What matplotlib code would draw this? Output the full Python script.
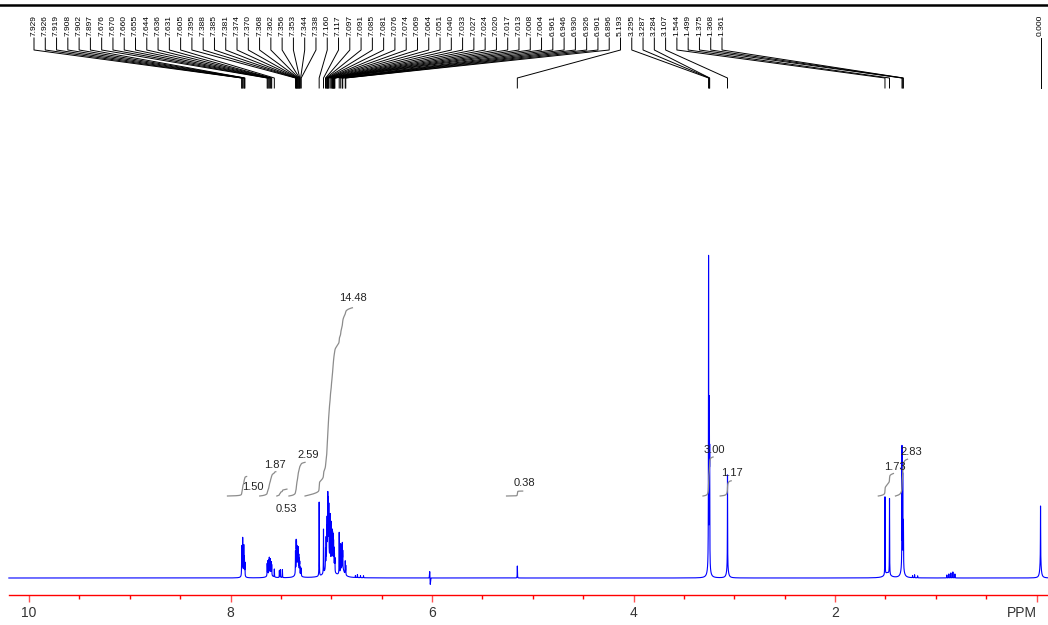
import numpy as np
import matplotlib
matplotlib.use('Agg')
import matplotlib.pyplot as plt
from matplotlib.ticker import MultipleLocator

plt.rcParams['font.family'] = ['Liberation Sans', 'DejaVu Sans']

# ---------------- data ----------------
# peak-pick labels (ppm) shown at the top
peak_labels = [7.929, 7.926, 7.919, 7.908, 7.902, 7.897, 7.676, 7.670, 7.660, 7.655,
               7.644, 7.636, 7.631, 7.605, 7.395, 7.388, 7.385, 7.381, 7.374, 7.370,
               7.368, 7.362, 7.356, 7.353, 7.344, 7.338, 7.160, 7.117, 7.097, 7.091,
               7.085, 7.081, 7.076, 7.074, 7.069, 7.064, 7.051, 7.040, 7.033, 7.027,
               7.024, 7.020, 7.017, 7.013, 7.008, 7.004, 6.961, 6.946, 6.930, 6.926,
               6.901, 6.896, 5.193, 3.295, 3.287, 3.284, 3.107, 1.544, 1.499, 1.375,
               1.368, 1.361]
ref_label = 0.000

# sharp lines: shift (ppm) and height
line_shift = [7.929, 7.926, 7.919, 7.908, 7.902, 7.897,
              7.676, 7.670, 7.660, 7.655, 7.644, 7.636, 7.631, 7.605,
              7.555, 7.545, 7.525,
              7.395, 7.388, 7.385, 7.381, 7.374, 7.370, 7.368, 7.362, 7.356, 7.353, 7.344, 7.338,
              7.160, 7.117,
              7.097, 7.091, 7.085, 7.081, 7.076, 7.074, 7.069, 7.064, 7.051, 7.040,
              7.033, 7.027, 7.024, 7.020, 7.017, 7.013, 7.008, 7.004,
              6.961, 6.946, 6.930, 6.926, 6.901, 6.896,
              6.80, 6.78, 6.75, 6.72,
              5.193,
              3.295, 3.287, 3.284, 3.107,
              1.544, 1.499, 1.375, 1.368, 1.361,
              1.27, 1.25, 1.22, 0.93, 0.91, 0.89, 0.87, 0.85,
              0.000]
line_height = [20, 26, 34, 28, 18, 13,
               12, 14, 13, 15, 14, 12, 10, 8,
               7, 8, 8,
               22, 28, 24, 20, 18, 16, 14, 16, 13, 11, 8, 7,
               74, 44,
               20, 28, 34, 40, 46, 52, 54, 50, 44, 40,
               34, 30, 28, 26, 24, 20, 16, 13,
               41, 27, 24, 16, 13, 9,
               2, 3, 2, 2,
               12,
               305, 150, 100, 93,
               78, 76, 116, 85, 45,
               2, 3, 2, 3, 4, 5, 6, 4,
               56]

# broad components: shift, height, half-width (ppm)
broad_shift = [7.915, 7.65, 7.375, 7.06, 6.93, 3.292, 3.107, 1.52, 1.37, 0.000]
broad_height = [6, 5, 10, 20, 9, 14, 10, 5, 16, 16]
broad_hwhm = [0.010, 0.020, 0.015, 0.030, 0.020, 0.012, 0.010, 0.030, 0.012, 0.008]

# phase artefact near 6 ppm
artefact_shift = 6.06
artefact_amp = 9

# integrals: region (ppm from, to) and value
int_from = [8.07, 7.75, 7.58, 7.46, 7.30, 5.30, 3.35, 3.18, 1.61, 1.44]
int_to = [7.88, 7.59, 7.48, 7.30, 6.83, 5.14, 3.25, 3.07, 1.46, 1.32]
int_value = [1.50, 1.87, 0.53, 2.59, 14.48, 0.38, 3.00, 1.17, 1.73, 2.83]

tick_values = [10, 8, 6, 4, 2, 0]
tick_labels = ['10', '8', '6', '4', '2', 'PPM']

# ---------------- layout ----------------
CAL = 0.04                       # referencing offset of the drawn trace
PPM_LEFT = 10 + 29 / 100.75
PPM_RIGHT = 10 - 1019 / 100.75
SPEC_START = 10.2
LINE_HWHM = 0.0012
INT_BASE = 82
INT_SCALE = 13
# integral label positions (ppm, height)
int_label_pos = [(7.777, 91), (7.558, 113), (7.449, 69), (7.226, 123), (6.789, 280),
                 (5.087, 95), (3.201, 128), (3.022, 105), (1.409, 111), (1.246, 126)]
LABEL_PX0, LABEL_PX1 = 34, 722

fig = plt.figure(figsize=(10.48, 6.25), dpi=100)
ax = fig.add_axes([0, 0, 1, 1])
ax.set_xlim(PPM_LEFT, PPM_RIGHT)
ax.set_ylim(-47, 578)
ax.patch.set_visible(False)

# spectrum
grid = np.linspace(SPEC_START, PPM_RIGHT, 40000)
pos = np.array(line_shift) - CAL
x = np.sort(np.concatenate([grid, pos]))[::-1]
y = np.zeros_like(x)
for s, h in zip(pos, line_height):
    y += h / (1 + ((x - s) / LINE_HWHM) ** 2)
for s, h, w in zip(broad_shift, broad_height, broad_hwhm):
    y += h / (1 + ((x - (s - CAL)) / w) ** 2)
d = (x - (artefact_shift - CAL)) / 0.004
y += artefact_amp * 1.65 * d * np.exp(-d ** 2)
ax.plot(x, y, color='#0000ff', lw=0.8)

# integrals
for a, b, v, (lx, ly) in zip(int_from, int_to, int_value, int_label_pos):
    m = (x <= a - CAL) & (x >= b - CAL)
    xs, ys = x[m], y[m]
    cum = np.concatenate([[0], np.cumsum(0.5 * (ys[1:] + ys[:-1]) * np.abs(np.diff(xs)))])
    frac = cum / cum[-1]
    ax.plot(xs, INT_BASE + INT_SCALE * v * frac, color='#8c8c8c', lw=0.9)
    ax.text(lx, ly, f'{v:.2f}', fontsize=8, color='#222222', ha='center', va='center')

# peak labels with connectors
span = PPM_LEFT - PPM_RIGHT
label_px = np.linspace(LABEL_PX0, LABEL_PX1, len(peak_labels))
label_x = PPM_LEFT - label_px / 1048 * span
for lx, v in zip(label_x, peak_labels):
    px = v - CAL
    ax.plot([lx, lx, px, px], [540, 528, 500, 490], color='black', lw=0.7)
    ax.text(lx, 542, f'{v:.3f}', rotation=90, ha='center', va='bottom', fontsize=6)
rx = ref_label - CAL
ax.plot([rx, rx], [540, 490], color='black', lw=0.7)
ax.text(rx, 542, f'{ref_label:.3f}', rotation=90, ha='center', va='bottom', fontsize=6)

# top bar
ax.axhline(573.5, color='black', lw=1.8)

# axis
for sp in ['top', 'left', 'right']:
    ax.spines[sp].set_visible(False)
ax.spines['bottom'].set_position(('data', -17))
ax.spines['bottom'].set_bounds(SPEC_START, PPM_RIGHT)
ax.spines['bottom'].set_color('#ff0000')
ax.spines['bottom'].set_linewidth(1.0)
ax.yaxis.set_visible(False)
ax.set_xticks(tick_values)
ax.set_xticklabels(tick_labels)
ax.xaxis.set_minor_locator(MultipleLocator(0.5))
ax.tick_params(axis='x', which='major', length=5, width=1, color='#ff5050',
               direction='out', pad=3, labelsize=10, labelcolor='#333333')
ax.tick_params(axis='x', which='minor', length=3, width=1, color='#ff0000', direction='out')
ax.get_xticklabels()[-1].set_horizontalalignment('right')

fig.savefig('out.png', dpi=100)
